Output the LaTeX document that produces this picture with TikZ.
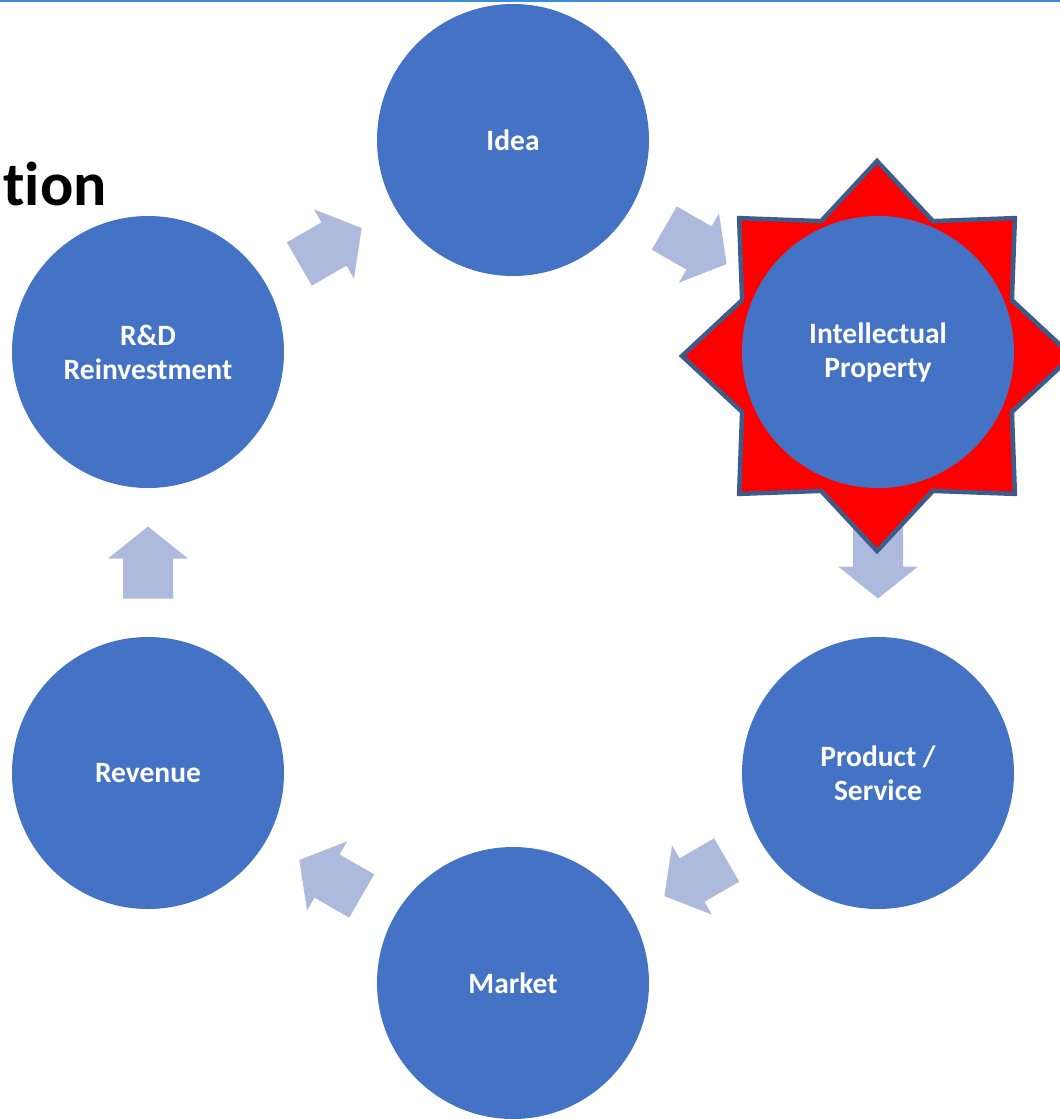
\documentclass[tikz,border=0pt]{standalone}
\usepackage{fontspec}
\setmainfont{Carlito}[Ligatures={NoCommon}]
\usetikzlibrary{calc}
\definecolor{bubble}{RGB}{68,114,196}
\definecolor{arrowfill}{RGB}{173,186,222}
\definecolor{starline}{RGB}{62,92,138}
\definecolor{topline}{RGB}{60,140,222}
\definecolor{starred}{RGB}{255,0,0}
\begin{document}
\begin{tikzpicture}[x=1pt,y=-1pt,
  bub/.style={circle, fill=bubble, minimum size=272pt, inner sep=0pt, text=white,
    font=\fontsize{29.5}{34}\selectfont\bfseries, align=center},
  blockarrow/.style={fill=arrowfill},
  starshape/.style={fill=starred, draw=starline, line width=4.5pt, line join=miter}]
\useasboundingbox (0,0) rectangle (1060,1119);
\draw[topline, line width=2pt] (0,1) -- (1060,1);

% node centres
\coordinate (cIdea) at (513,140);
\coordinate (cIP) at (878,352);
\coordinate (cPS) at (878,773);
\coordinate (cMk) at (513,983);
\coordinate (cRv) at (148,773);
\coordinate (cRD) at (148,352);

% block arrows between bubbles
\coordinate (m1) at ($(cRD)!0.5!(cIdea)$);
\coordinate (m2) at ($(cIdea)!0.5!(cIP)$);
\coordinate (m3) at ($(cIP)!0.5!(cPS)$);
\coordinate (m4) at ($(cPS)!0.5!(cMk)$);
\coordinate (m5) at ($(cMk)!0.5!(cRv)$);
\coordinate (m6) at ($(cRv)!0.5!(cRD)$);
\foreach \m/\a in {m1/30, m2/-30, m3/-90, m4/-150, m5/150, m6/90}{
  \fill[blockarrow, shift={(\m)}, rotate=\a]
    (-36,-25) -- (4,-25) -- (4,-40) -- (36,0) -- (4,40) -- (4,25) -- (-36,25) -- cycle;
}

% star behind Intellectual Property
\draw[starshape, shift={(877,356)}]
  (0:195) \foreach \k in {1,...,7}{ -- (\k*45-22.5:146) -- (\k*45:195) } -- (337.5:146) -- cycle;

% bubbles
\node[bub] (idea) at (cIdea) {Idea};
\node[bub] (ip) at (cIP) {Intellectual\\Property};
\node[bub] (ps) at (cPS) {Product /\\Service};
\node[bub] (mk) at (cMk) {Market};
\node[bub] (rv) at (cRv) {Revenue};
\node[bub] (rd) at (cRD) {R\&D\\Reinvestment};

% partial title
\node[anchor=base east, inner sep=0pt, font=\fontsize{62}{70}\selectfont\bfseries] (title) at (107,205) {t\kern0pt ion};
\end{tikzpicture}
\end{document}
